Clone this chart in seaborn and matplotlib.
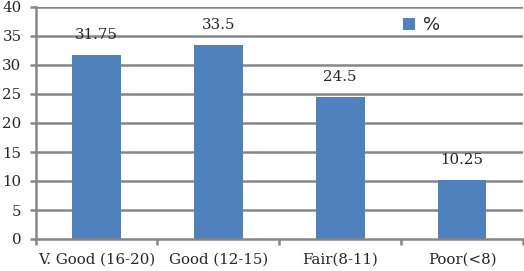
import matplotlib
matplotlib.use("Agg")
import matplotlib.pyplot as plt
import seaborn as sns
import pandas as pd
from matplotlib.ticker import FixedLocator

categories = ["V. Good (16-20)", "Good (12-15)", "Fair(8-11)", "Poor(<8)"]
values = [31.75, 33.5, 24.5, 10.25]
value_labels = ["31.75", "33.5", "24.5", "10.25"]
series_name = "%"
yticks = [0, 5, 10, 15, 20, 25, 30, 35, 40]

df = pd.DataFrame({"cat": categories, "val": values, "series": series_name})

sns.set_style("white")
plt.rcParams['font.family'] = ['DejaVu Serif']

fig = plt.figure(figsize=(5.24, 2.71), dpi=100)
ax = fig.add_axes([35.5/524, 32/271, (523 - 35.5)/524, 232/271])

bar_color = "#4F81BD"
grid_color = "#868686"
sns.barplot(data=df, x="cat", y="val", hue="series", palette=[bar_color],
            width=0.4, ax=ax, legend=True, saturation=1, linewidth=0)

ax.set_ylim(0, 40)
ax.set_xlim(-0.5, len(categories) - 0.5)
ax.set_yticks(yticks)
ax.set_yticklabels([str(t) for t in yticks], fontsize=10.8)
ax.set_xticks(range(len(categories)))
ax.set_xticklabels(categories, fontsize=10.8)
ax.set_xlabel("")
ax.set_ylabel("")

for t in yticks[1:]:
    ax.axhline(t, color=grid_color, lw=1.8, zorder=0)

for s in ["top", "right"]:
    ax.spines[s].set_visible(False)
for s in ["left", "bottom"]:
    ax.spines[s].set_color(grid_color)
    ax.spines[s].set_linewidth(1.8)

ax.tick_params(axis="y", length=4, width=1.8, color=grid_color, pad=6, left=True)
ax.tick_params(axis="x", length=0, pad=10)
ax.xaxis.set_minor_locator(FixedLocator([i - 0.5 for i in range(len(categories) + 1)]))
ax.tick_params(axis="x", which="minor", length=4, width=1.8, color=grid_color, bottom=True)

for i, (v, lab) in enumerate(zip(values, value_labels)):
    ax.text(i, v + 2.2, lab, ha="center", va="bottom", fontsize=10.8)

leg = ax.legend(loc="upper left", bbox_to_anchor=(0.72, 1.03), frameon=False,
                handlelength=0.7, handleheight=0.7, handletextpad=0.4,
                prop={"family": "DejaVu Sans", "size": 13})

fig.savefig("out.png", dpi=100)
